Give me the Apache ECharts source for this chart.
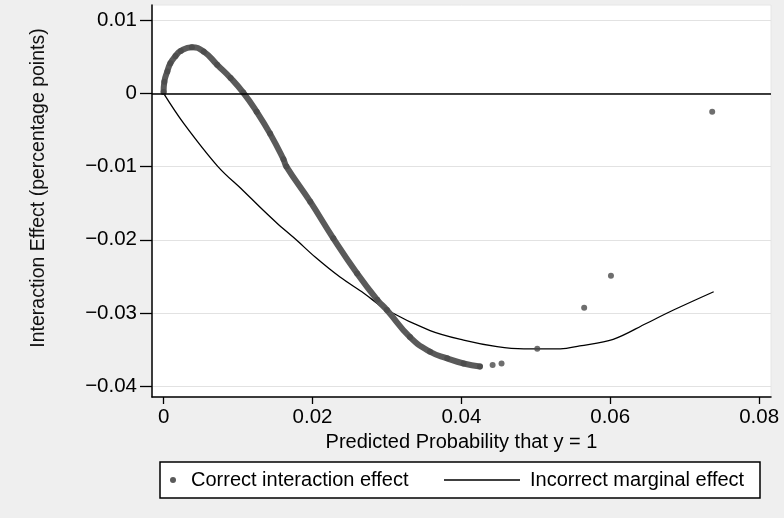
<!DOCTYPE html>
<html>
<head>
<meta charset="utf-8">
<script src="https://cdn.jsdelivr.net/npm/echarts@6/dist/echarts.min.js"></script>
<style>
  html, body { margin: 0; padding: 0; background: #efefef; }
  #chart { width: 784px; height: 518px; }
</style>
</head>
<body>
<div id="chart"></div>
<script>
// dense band of the correct interaction effect
var bandX = [0.0000, 0.0001, 0.0005, 0.0009, 0.0016, 0.0023, 0.0038, 0.0054, 0.0072, 0.0090, 0.0107, 0.0125, 0.0143, 0.0161, 0.0165, 0.0197, 0.0228, 0.0260, 0.0287, 0.0300, 0.0331, 0.0358, 0.0381, 0.0403, 0.0425];
var bandY = [0.0002, 0.0016, 0.0030, 0.0041, 0.0051, 0.0058, 0.0063, 0.0057, 0.0039, 0.0021, 0.0001, -0.0025, -0.0055, -0.0090, -0.0100, -0.0148, -0.0198, -0.0246, -0.0282, -0.0296, -0.0333, -0.0353, -0.0362, -0.0369, -0.0373];
// isolated points of the correct interaction effect
var isoX = [0.0442, 0.0454, 0.0502, 0.0565, 0.0601, 0.0737];
var isoY = [-0.0371, -0.0369, -0.0349, -0.0293, -0.0249, -0.0025];
// incorrect marginal effect
var lineX = [0.0000, 0.0027, 0.0073, 0.0107, 0.0130, 0.0152, 0.0177, 0.0204, 0.0237, 0.0269, 0.0300, 0.0358, 0.0403, 0.0448, 0.0484, 0.0533, 0.0559, 0.0604, 0.0649, 0.0685, 0.0739];
var lineY = [0.0000, -0.0041, -0.0100, -0.0133, -0.0156, -0.0177, -0.0199, -0.0224, -0.0251, -0.0273, -0.0296, -0.0324, -0.0337, -0.0346, -0.0349, -0.0349, -0.0345, -0.0336, -0.0314, -0.0296, -0.0271];
var xTicks = [0, 0.02, 0.04, 0.06, 0.08];
var yTicks = [0.01, 0, -0.01, -0.02, -0.03, -0.04];

var nomCorrect = "Correct interaction effect";
var nomIncorrect = "Incorrect marginal effect";

function pares(xs, ys) {
  var out = [];
  for (var i = 0; i < xs.length; i++) {
    out.push([xs[i], ys[i]]);
  }
  return out;
}

function etiqueta(v) {
  var r = Math.round(v * 100) / 100;
  if (r < 0) return "\u2212" + Math.abs(r);
  return String(r);
}

var fuente = "'Liberation Sans', Arial, sans-serif";

var option = {
  animation: false,
  backgroundColor: "#efefef",
  textStyle: { fontFamily: fuente, color: "#000" },
  graphic: [
    {
      type: "rect",
      z: 1,
      shape: { x: 160, y: 462, width: 600, height: 36 },
      style: { fill: "#fff", stroke: "#000", lineWidth: 1.5 }
    }
  ],
  legend: [
    {
      left: 170,
      top: 470,
      padding: 0,
      itemWidth: 6,
      itemHeight: 6,
      textStyle: { fontSize: 20, color: "#000", fontFamily: fuente, padding: [0, 0, 0, 10] },
      data: [{ name: nomCorrect, icon: "circle" }]
    },
    {
      left: 444,
      top: 470,
      padding: 0,
      itemWidth: 76,
      itemHeight: 1.6,
      textStyle: { fontSize: 20, color: "#000", fontFamily: fuente, padding: [0, 0, 0, 5] },
      data: [{ name: nomIncorrect, icon: "rect" }]
    }
  ],
  grid: {
    left: 152,
    right: 13,
    top: 5,
    bottom: 121,
    show: true,
    backgroundColor: "#fff",
    borderColor: "#e6e6e6",
    borderWidth: 1
  },
  xAxis: {
    type: "value",
    min: -0.00156,
    max: 0.0816,
    splitNumber: 4,
    name: "Predicted Probability that y = 1",
    nameLocation: "middle",
    nameGap: 31,
    nameTextStyle: { fontSize: 20, color: "#000", fontFamily: fuente },
    axisLine: { show: true, onZero: false, lineStyle: { color: "#000", width: 1.5 } },
    axisTick: { show: true, length: 7, customValues: xTicks, lineStyle: { color: "#000", width: 1.3 } },
    axisLabel: { customValues: xTicks, fontSize: 20.5, color: "#000", margin: 10, formatter: etiqueta },
    splitLine: { show: false }
  },
  yAxis: {
    type: "value",
    min: -0.04148,
    max: 0.01207,
    splitNumber: 5,
    name: "Interaction Effect (percentage points)",
    nameLocation: "middle",
    nameGap: 103,
    nameTextStyle: { fontSize: 19.5, color: "#111", fontFamily: fuente, padding: [0, 0, 0, 26] },
    axisLine: { show: true, onZero: false, lineStyle: { color: "#000", width: 1.5 } },
    axisTick: { show: true, length: 12, customValues: yTicks, lineStyle: { color: "#000", width: 1.3 } },
    axisLabel: { customValues: yTicks, fontSize: 20.5, color: "#000", margin: 15, formatter: etiqueta },
    splitLine: { show: true, lineStyle: { color: "#e2e2e2", width: 1.2 } }
  },
  series: [
    {
      name: nomIncorrect,
      type: "line",
      z: 2,
      symbol: "none",
      smooth: 0.35,
      lineStyle: { color: "#000", width: 1.3 },
      itemStyle: { color: "#000" },
      data: pares(lineX, lineY),
      markLine: {
        silent: true,
        symbol: ["none", "none"],
        label: { show: false },
        lineStyle: { color: "#000", type: "solid", width: 1.5 },
        data: [{ yAxis: 0 }]
      }
    },
    {
      name: nomCorrect,
      type: "line",
      z: 3,
      symbol: "none",
      smooth: true,
      lineStyle: { color: "#5a5a5a", width: 6, cap: "round" },
      itemStyle: { color: "#5a5a5a" },
      data: pares(bandX, bandY)
    },
    {
      name: nomCorrect,
      type: "scatter",
      z: 4,
      symbol: "circle",
      symbolSize: 6,
      itemStyle: { color: "#4a4a4a" },
      data: pares(bandX, bandY).concat(pares(isoX, isoY))
    }
  ]
};

var chartDom = document.getElementById("chart");
var myChart = echarts.init(chartDom);
myChart.setOption(option);
</script>
</body>
</html>
